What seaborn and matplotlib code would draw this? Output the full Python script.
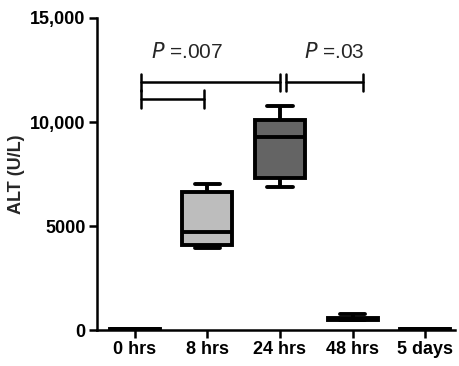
import numpy as np
import pandas as pd
import seaborn as sns
import matplotlib.pyplot as plt

# ALT values per time point (min, Q1, median, Q3, max)
groups = ["0 hrs", "8 hrs", "24 hrs", "48 hrs", "5 days"]
alt_0h = [20, 30, 40, 50, 70]
alt_8h = [3950, 4100, 4700, 6650, 7000]
alt_24h = [6880, 7300, 9300, 10100, 10780]
alt_48h = [480, 510, 540, 560, 780]
alt_5d = [20, 30, 40, 50, 70]
box_colors = ["white", "#bdbdbd", "#646464", "white", "white"]

y_ticks = [0, 5000, 10000, 15000]
y_ticklabels = ["0", "5000", "10,000", "15,000"]

# significance brackets: (x start, x end, y level)
brackets = [(0.08, 2.0, 11900), (0.08, 0.95, 11100), (2.08, 3.15, 11900)]
p_labels = [(0.72, 13350, ".007"), (2.75, 13350, ".03")]

df = pd.DataFrame({
    "group": np.repeat(groups, 5),
    "alt": alt_0h + alt_8h + alt_24h + alt_48h + alt_5d,
})

sns.set_style("ticks")
plt.rcParams["font.family"] = ["Liberation Sans", "DejaVu Sans"]

fig = plt.figure(figsize=(4.59, 3.66), dpi=100)
ax = fig.add_axes([0.211, 0.098, 0.78, 0.853])

sns.boxplot(data=df, x="group", y="alt", order=groups, hue="group",
            palette=dict(zip(groups, box_colors)), legend=False,
            width=0.69, whis=(0, 100), showfliers=False,
            linecolor="black", linewidth=2.8, ax=ax)

for x0, x1, y in brackets:
    ax.plot([x0, x1], [y, y], color="black", lw=1.8, clip_on=False)
    for xe in (x0, x1):
        ax.plot([xe, xe], [y - 420, y + 420], color="black", lw=1.8, clip_on=False)

for x, y, p in p_labels:
    ax.text(x, y, r"$\it{P}$" + " =" + p, ha="center", va="center", fontsize=15)

ax.set_xlim(-0.524, 4.41)
ax.set_ylim(0, 15000)
ax.set_yticks(y_ticks)
ax.set_yticklabels(y_ticklabels)
ax.set_xlabel("")
ax.set_ylabel("ALT (U/L)", fontsize=13, fontweight="bold", labelpad=4)
for lab in ax.get_xticklabels() + ax.get_yticklabels():
    lab.set_fontweight("bold")
    lab.set_fontsize(13)
ax.tick_params(axis="both", width=1.8, length=6, pad=2, color="black", labelcolor="black")
for s in ["left", "bottom"]:
    ax.spines[s].set_linewidth(1.8)
    ax.spines[s].set_color("black")
sns.despine(ax=ax)

fig.savefig("out.png", dpi=100)
